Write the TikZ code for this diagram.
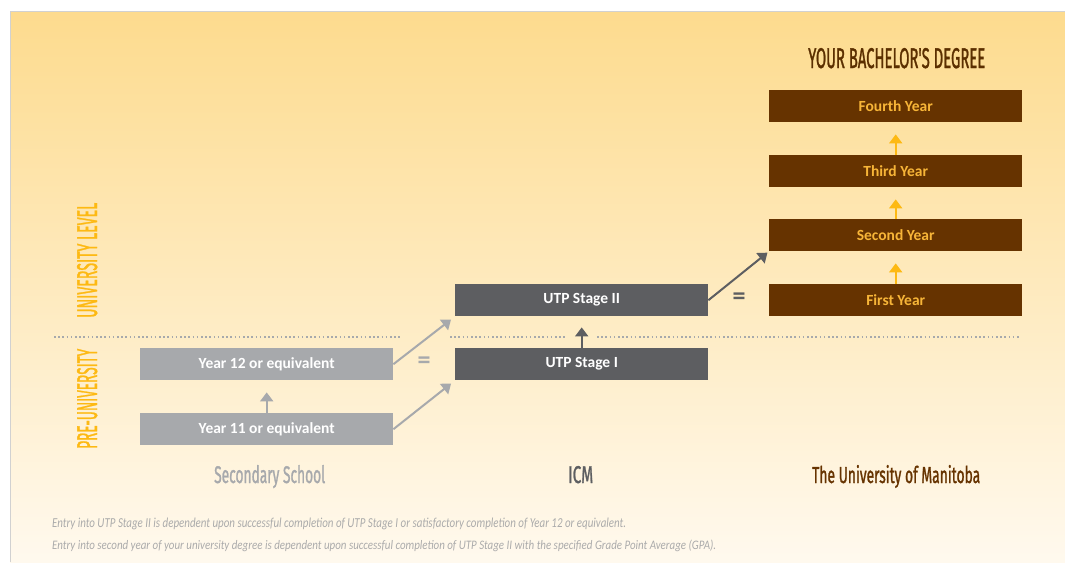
\documentclass[tikz,border=0pt]{standalone}
\usepackage{fontspec}
\setmainfont{Carlito}
\newfontfamily\condfont{Fira Sans}[FakeBold=1.6]
\usetikzlibrary{arrows.meta}
\definecolor{bgtop}{HTML}{FDDB8E}
\definecolor{bgbot}{HTML}{FFF9EE}
\definecolor{brown}{HTML}{663300}
\definecolor{titlebrown}{HTML}{5B2F00}
\definecolor{goldtxt}{HTML}{F7B538}
\definecolor{yel}{HTML}{FDB913}
\definecolor{dgray}{HTML}{5D5E61}
\definecolor{lgray}{HTML}{A7A9AC}
\definecolor{fngray}{HTML}{ABABAB}
\newcommand\cnd[3]{\resizebox{#1}{#2}{\condfont #3}}
\tikzset{
  box/.style={minimum width=253pt, minimum height=32pt, inner sep=0pt, anchor=north west,
    font=\bfseries\fontsize{15.5}{17}\selectfont},
  secbox/.style={box, fill=lgray, text=white},
  icmbox/.style={box, fill=dgray, text=white},
  unibox/.style={box, fill=brown, text=goldtxt},
  arr/.style={line width=2pt, -{Triangle[width=13pt,length=9pt]}},
  yarr/.style={arr, draw=yel, shorten >=12pt},
  garr/.style={arr, draw=lgray},
  darr/.style={arr, draw=dgray},
  eq/.style={font=\bfseries\fontsize{26}{26}\selectfont, inner sep=0pt},
  lbl/.style={inner sep=0pt, anchor=base west},
  dots/.style={draw=lgray, line width=1.6pt, dash pattern=on 1.6pt off 2.6pt}
}
\begin{document}
\begin{tikzpicture}[x=1pt,y=-1pt]
\useasboundingbox (0,0) rectangle (1065,562);
\fill[white] (0,0) rectangle (1065,562);
\shade[top color=bgtop, bottom color=bgbot] (10,11) rectangle (1065,562);
\draw[black!18, line width=0.8pt] (10,562) -- (10,11) -- (1065,11);

% dotted separator
\coordinate (d1) at (54,337);
\coordinate (d2) at (400,337);
\coordinate (d3) at (450,337);
\coordinate (d4) at (565,337);
\coordinate (d5) at (597,337);
\coordinate (d6) at (1020,337);
\draw[dots] (d1) -- (d2);
\draw[dots] (d3) -- (d4);
\draw[dots] (d5) -- (d6);

% side labels
\node[lbl, rotate=90, text=yel] (ul) at (97,318) {\cnd{115pt}{20pt}{UNIVERSITY LEVEL}};
\node[lbl, rotate=90, text=yel] (pu) at (97,449) {\cnd{100pt}{20pt}{PRE-UNIVERSITY}};

% title
\node[lbl, text=titlebrown] (title) at (808,68) {\cnd{177pt}{20pt}{YOUR BACHELOR'S DEGREE}};

% university boxes
\node[unibox] (y4) at (769,90) {Fourth Year};
\node[unibox] (y3) at (769,155) {Third Year};
\node[unibox] (y2) at (769,219) {Second Year};
\node[unibox] (y1) at (769,284) {First Year};
\draw[yarr] (y1.north) -- (y2.south);
\draw[yarr] (y2.north) -- (y3.south);
\draw[yarr] (y3.north) -- (y4.south);

% ICM boxes
\node[icmbox] (u2) at (455,284) {UTP Stage II};
\node[icmbox] (u1) at (455,348) {UTP Stage I};
\draw[darr, shorten >=11pt] (u1.north) -- (u2.south);
\draw[darr, shorten >=2pt] (u2.east) -- (y2.south west);
\node[eq, text=dgray] (eq2) at (739,299) {=};

% secondary boxes
\node[secbox] (s12) at (140,348) {Year 12 or equivalent};
\node[secbox] (s11) at (140,413) {Year 11 or equivalent};
\draw[garr, shorten >=12pt] (s11.north) -- (s12.south);
\draw[garr, shorten >=5pt] (s12.east) -- (u2.south west);
\draw[garr, shorten >=5pt] (s11.east) -- (u1.south west);
\node[eq, text=lgray] (eq1) at (424,363) {=};

% bottom labels
\node[lbl, text=lgray] (ss) at (214,483) {\cnd{111pt}{18pt}{Secondary School}};
\node[lbl, text=dgray] (icm) at (568,483) {\cnd{25pt}{17pt}{ICM}};
\node[lbl, text=brown] (uom) at (812,483) {\cnd{168pt}{18pt}{The University of Manitoba}};

% footnotes
\node[lbl, text=fngray] (fn1) at (52,527) {\resizebox{574pt}{9.5pt}{\itshape Entry into UTP Stage II is dependent upon successful completion of UTP Stage I or satisfactory completion of Year 12 or equivalent.}};
\node[lbl, text=fngray] (fn2) at (52,549) {\resizebox{664pt}{9.5pt}{\itshape Entry into second year of your university degree is dependent upon successful completion of UTP Stage II with the specified Grade Point Average (GPA).}};
\end{tikzpicture}
\end{document}
